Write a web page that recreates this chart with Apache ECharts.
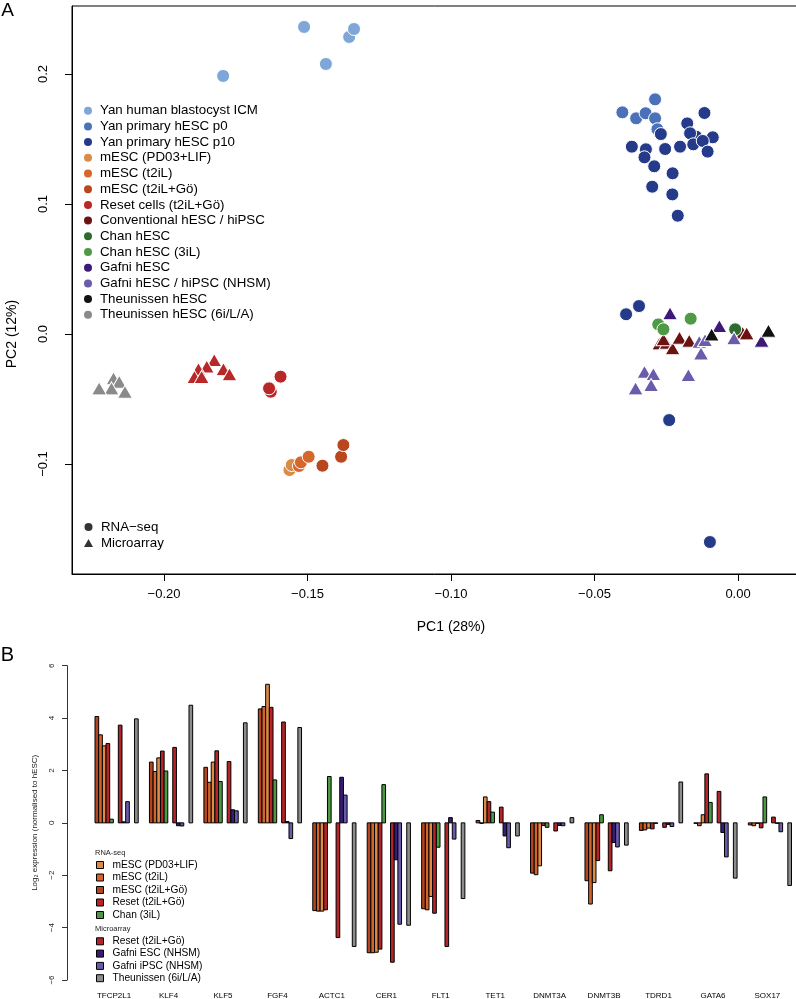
<!DOCTYPE html>
<html><head><meta charset="utf-8">
<script src="https://cdn.jsdelivr.net/npm/echarts@6/dist/echarts.min.js"></script>
<style>html,body{margin:0;padding:0;background:#fff}#c{width:796px;height:999px}</style>
</head><body><div id="c"></div>
<script>
// ---------------- Panel A data (PC1, PC2) ----------------
const yanICM = [[-0.1794,0.1985],[-0.1512,0.2362],[-0.1436,0.2077],[-0.1355,0.2285],[-0.1338,0.2346]];
const yanP0 = [[-0.0403,0.1705],[-0.0355,0.1659],[-0.0322,0.1698],[-0.0289,0.1805],[-0.0289,0.1659],[-0.0281,0.1575]];
const yanP10 = [[-0.0117,0.170],[-0.0177,0.162],[-0.0269,0.1538],[-0.0146,0.1518],[-0.0088,0.1513],[-0.0167,0.1544],[-0.0156,0.1459],[-0.0123,0.1485],[-0.0106,0.1403],[-0.0370,0.1441],[-0.0321,0.1421],[-0.0326,0.1359],[-0.0254,0.1423],[-0.0202,0.1441],[-0.0292,0.1290],[-0.0228,0.1236],[-0.0299,0.1133],[-0.0229,0.1074],[-0.0210,0.0910],[-0.0390,0.0152],[-0.0345,0.0215],[-0.0240,-0.0662],[-0.0098,-0.160]];
const mescPD03 = [[-0.1563,-0.1046],[-0.1555,-0.1008]];
const mescT2iL = [[-0.1530,-0.1015],[-0.1523,-0.0987],[-0.1496,-0.0944]];
const mescT2iLGo = [[-0.1448,-0.1013],[-0.1383,-0.0944],[-0.1375,-0.0854]];
const resetRNA = [[-0.1628,-0.0444],[-0.1634,-0.0418],[-0.1594,-0.0328]];
const resetArray = [[-0.1825,-0.020],[-0.1851,-0.025],[-0.1880,-0.027],[-0.1894,-0.033],[-0.1869,-0.033],[-0.1793,-0.027],[-0.1772,-0.031]];
const conventional = [[-0.0274,-0.0072],[-0.0249,-0.0067],[-0.0228,-0.0110],[-0.0204,-0.0028],[-0.0170,-0.0051],[-0.0002,0.0018],[0.0016,0.0010],[0.0030,0.0005],[-0.0260,-0.0040]];
const chanHESC = [[-0.0010,0.0036]];
const chan3iL = [[-0.0278,0.0074],[-0.0260,0.0036],[-0.0165,0.0118]];
const gafniHESC = [[-0.0237,0.0159],[-0.0065,0.0062],[0.0082,-0.0051]];
const gafniNHSM = [[-0.0135,-0.0059],[-0.0115,-0.0046],[-0.0129,-0.0149],[-0.0014,-0.0033],[-0.0326,-0.0290],[-0.0295,-0.0308],[-0.0357,-0.0418],[-0.0303,-0.0392],[-0.0173,-0.0315]];
const theuHESC = [[-0.0092,-0.0003],[0.0106,0.0026]];
const theu6iLA = [[-0.2176,-0.0341],[-0.2156,-0.0367],[-0.2183,-0.0418],[-0.2226,-0.0418],[-0.2136,-0.0444]];
const xTicksA = [-0.20,-0.15,-0.10,-0.05,0.00];
const yTicksA = [-0.1,0.0,0.1,0.2];

// ---------------- Panel B data (log2 expression) ----------------
const genes = ['TFCP2L1','KLF4','KLF5','FGF4','ACTC1','CER1','FLT1','TET1','DNMT3A','DNMT3B','TDRD1','GATA6','SOX17'];
const bT2iLGo  = [4.06, 2.32, 2.12, 4.35,-3.35,-4.96,-3.28, 0.09,-1.92,-2.21,-0.29,-0.01,-0.08];
const bT2iL    = [3.36, 1.96, 1.55, 4.44,-3.37,-4.96,-3.32,-0.02,-1.98,-3.10,-0.27,-0.11,-0.11];
const bPD03    = [2.94, 2.48, 2.32, 5.29,-3.37,-4.94,-2.81, 0.99,-1.64,-2.28,-0.20, 0.31,-0.01];
const bResetRNA= [3.03, 2.74, 2.75, 4.41,-3.32,-4.82,-3.45, 0.81,-0.10,-1.44,-0.23, 1.87,-0.19];
const bChan3iL = [0.14, 1.98, 1.58, 1.64, 1.77, 1.46,-0.93, 0.41,-0.17, 0.31,-0.01, 0.78, 0.99];
const bResetArr= [3.73, 2.88, 2.34, 3.85,-4.38,-5.32,-4.72, 0.60,-0.31,-1.83,-0.17, 1.20, 0.22];
const bGafniESC= [0.04,-0.11, 0.50, 0.05, 1.74,-1.41, 0.20,-0.50,-0.10,-0.75,-0.06,-0.37, 0.00];
const bGafniIPS= [0.81,-0.12, 0.46,-0.60, 1.06,-3.87,-0.62,-0.95,-0.11,-0.92,-0.14,-1.30,-0.34];
const bTheu    = [3.97, 4.49, 3.82, 3.64,-4.72,-3.91,-2.89,-0.50, 0.20,-0.85, 1.56,-2.11,-2.39];
const yTicksB = [-6,-4,-2,0,2,4,6];

// ---------------- styling / layout ----------------
const FONT = '"Liberation Sans", Arial, Helvetica, sans-serif';
const minus = s => s.replace('-', '\u2212');

const groupsA = [
  {name:'Yan human blastocyst ICM', color:'#7ea6d8', parts:[[yanICM,'c']]},
  {name:'Yan primary hESC p0', color:'#4b72b8', parts:[[yanP0,'c']]},
  {name:'Yan primary hESC p10', color:'#253b8a', parts:[[yanP10,'c']]},
  {name:'mESC (PD03+LIF)', color:'#d98c45', parts:[[mescPD03,'c']]},
  {name:'mESC (t2iL)', color:'#d4662e', parts:[[mescT2iL,'c']]},
  {name:'mESC (t2iL+Gö)', color:'#b8461e', parts:[[mescT2iLGo,'c']]},
  {name:'Reset cells (t2iL+Gö)', color:'#b82828', parts:[[resetRNA,'c'],[resetArray,'t']]},
  {name:'Conventional hESC / hiPSC', color:'#6b1313', parts:[[conventional,'t']]},
  {name:'Chan hESC', color:'#2e6b2e', parts:[[chanHESC,'c']]},
  {name:'Chan hESC (3iL)', color:'#4e9a46', parts:[[chan3iL,'c']]},
  {name:'Gafni hESC', color:'#3d1a78', parts:[[gafniHESC,'t']]},
  {name:'Gafni hESC / hiPSC (NHSM)', color:'#6b5bab', parts:[[gafniNHSM,'t']]},
  {name:'Theunissen hESC', color:'#111111', parts:[[theuHESC,'t']]},
  {name:'Theunissen hESC (6i/L/A)', color:'#8a8a8a', parts:[[theu6iLA,'t']]}
];

const series = [];
groupsA.forEach(g => g.parts.forEach(([d, s]) => {
  series.push({
    type:'scatter', name:g.name, xAxisIndex:0, yAxisIndex:0, data:d,
    symbol: s === 't' ? 'triangle' : 'circle',
    symbolSize: s === 't' ? [15,13] : 13,
    itemStyle:{color:g.color, borderColor:'#ffffff', borderWidth:1, opacity:1},
    emphasis:{disabled:true}, silent:true
  });
}));
series.push({type:'scatter', name:'RNA\u2212seq', xAxisIndex:0, yAxisIndex:0, data:[], symbol:'circle', itemStyle:{color:'#000'}});
series.push({type:'scatter', name:'Microarray', xAxisIndex:0, yAxisIndex:0, data:[], symbol:'triangle', itemStyle:{color:'#000'}});

// Panel B bars
const barDefs = [
  {name:'mESC (t2iL+Gö)', values:bT2iLGo, color:'#b4451f'},
  {name:'mESC (t2iL)', values:bT2iL, color:'#d2652c'},
  {name:'mESC (PD03+LIF)', values:bPD03, color:'#dd8b45'},
  {name:'Reset (t2iL+Gö)', values:bResetRNA, color:'#b52427'},
  {name:'Chan (3iL)', values:bChan3iL, color:'#4b9a42'},
  {name:'Reset (t2iL+Gö)', values:bResetArr, color:'#b52427'},
  {name:'Gafni ESC (NHSM)', values:bGafniESC, color:'#3a1a78'},
  {name:'Gafni iPSC (NHSM)', values:bGafniIPS, color:'#6a5aab'},
  {name:'Theunissen (6i/L/A)', values:bTheu, color:'#8c8c8c'}
];
const SLOT = [0,1,2,3,4,6.35,7.35,8.35,10.77];
const PERIOD = 14.83;
const LABEL_OFF = 5.2;
const XB_MIN = -7.63, XB_MAX = -7.63 + 728/3.671;

barDefs.forEach((b, k) => {
  series.push({
    type:'custom', name:b.name, xAxisIndex:1, yAxisIndex:1,
    data: b.values.map((v,i) => [i, v]),
    encode:{x:0, y:1},
    itemStyle:{color:b.color},
    silent:true,
    renderItem: (params, api) => {
      const gi = api.value(0), v = api.value(1);
      const x0 = gi * PERIOD + SLOT[k];
      const p0 = api.coord([x0, 0]);
      const p1 = api.coord([x0 + 1, v]);
      return {type:'rect',
        shape:{x:p0[0], y:Math.min(p0[1],p1[1]), width:p1[0]-p0[0], height:Math.max(Math.abs(p1[1]-p0[1]),0.5)},
        style:{fill:b.color, stroke:'#000', lineWidth:1}};
    }
  });
});
series.push({
  type:'custom', name:'genes', xAxisIndex:1, yAxisIndex:1,
  data: genes.map((g,i) => [i, -6]), encode:{x:0, y:1}, silent:true,
  renderItem: (params, api) => {
    const i = api.value(0);
    const p = api.coord([i * PERIOD + LABEL_OFF, -6]);
    return {type:'text', x:p[0], y:p[1] + 15.7,
      style:{text:genes[i], align:'center', verticalAlign:'middle', font:'8px ' + FONT, fill:'#000'}};
  }
});

const legendItem = (name, color, icon) => ({name, icon, itemStyle:{color, borderColor:'#000', borderWidth: icon==='rect'?1:0}});

const option = {
  animation:false,
  backgroundColor:'#ffffff',
  grid:[
    {left:72, top:6, width:733.2, height:568, show:true, borderColor:'#000', borderWidth:1, backgroundColor:'transparent', outerBoundsMode:'none', containLabel:false},
    {left:67, top:665.7, width:728, height:314.3, outerBoundsMode:'none', containLabel:false}
  ],
  xAxis:[
    {type:'value', gridIndex:0, min:-0.23206, max:0.0234, position:'bottom',
     axisLine:{show:true, onZero:false, lineStyle:{color:'#000', width:1}}, splitLine:{show:false},
     axisTick:{show:true, length:7, lineStyle:{color:'#000', width:1}, customValues:xTicksA},
     axisLabel:{customValues:xTicksA, formatter:v => minus(v.toFixed(2)), fontSize:13, color:'#000', margin:14, fontFamily:FONT}},
    {type:'value', gridIndex:1, min:XB_MIN, max:XB_MAX, show:false, splitLine:{show:false}, axisLine:{onZero:false}}
  ],
  yAxis:[
    {type:'value', gridIndex:0, min:-0.1846, max:0.2523, position:'left',
     axisLine:{show:true, onZero:false, lineStyle:{color:'#000', width:1}}, splitLine:{show:false},
     axisTick:{show:true, length:7, lineStyle:{color:'#000', width:1}, customValues:yTicksA},
     axisLabel:{customValues:yTicksA, formatter:v => minus(v.toFixed(1)), fontSize:13, color:'#000', margin:22, rotate:90, fontFamily:FONT}},
    {type:'value', gridIndex:1, min:-6, max:6, interval:2, position:'left',
     axisLine:{show:true, onZero:false, lineStyle:{color:'#333', width:1}}, splitLine:{show:false},
     axisTick:{show:true, length:5, lineStyle:{color:'#333', width:1}, customValues:yTicksB},
     axisLabel:{customValues:yTicksB, formatter:v => minus(String(v)), fontSize:8, color:'#222', margin:11, rotate:90, fontFamily:FONT}}
  ],
  legend:[
    {left:84, top:102.85, orient:'vertical', padding:0, itemGap:0, itemWidth:8, itemHeight:8, selectedMode:false,
     textStyle:{fontSize:13.3, lineHeight:15.7, color:'#000', fontFamily:FONT, padding:[0,0,0,3]},
     data: groupsA.map(g => ({name:g.name, icon:'circle', itemStyle:{color:g.color, borderWidth:0}}))},
    {left:84, top:519, orient:'vertical', padding:0, itemGap:0, itemWidth:9, itemHeight:8, selectedMode:false,
     textStyle:{fontSize:13.3, lineHeight:16, color:'#000', fontFamily:FONT, padding:[0,0,0,3]},
     data:[{name:'RNA\u2212seq', icon:'circle', itemStyle:{color:'#000'}}, {name:'Microarray', icon:'triangle', itemStyle:{color:'#000'}}]},
    {left:96, top:858.75, orient:'vertical', padding:0, itemGap:0, itemWidth:7, itemHeight:7, selectedMode:false,
     textStyle:{fontSize:10.2, lineHeight:12.5, color:'#000', fontFamily:FONT, padding:[0,0,0,4]},
     data:[legendItem('mESC (PD03+LIF)','#dd8b45','rect'), legendItem('mESC (t2iL)','#d2652c','rect'), legendItem('mESC (t2iL+Gö)','#b4451f','rect'), legendItem('Reset (t2iL+Gö)','#b52427','rect'), legendItem('Chan (3iL)','#4b9a42','rect')]},
    {left:96, top:935.15, orient:'vertical', padding:0, itemGap:0, itemWidth:7, itemHeight:7, selectedMode:false,
     textStyle:{fontSize:10.2, lineHeight:12.3, color:'#000', fontFamily:FONT, padding:[0,0,0,4]},
     data:[legendItem('Reset (t2iL+Gö)','#b52427','rect'), legendItem('Gafni ESC (NHSM)','#3a1a78','rect'), legendItem('Gafni iPSC (NHSM)','#6a5aab','rect'), legendItem('Theunissen (6i/L/A)','#8c8c8c','rect')]}
  ],
  graphic:[
    {type:'text', x:7.5, y:11, style:{text:'A', font:'19px ' + FONT, fill:'#000', align:'center', verticalAlign:'middle'}},
    {type:'text', x:7.5, y:655, style:{text:'B', font:'20px ' + FONT, fill:'#000', align:'center', verticalAlign:'middle'}},
    {type:'text', x:451, y:627, style:{text:'PC1 (28%)', font:'14px ' + FONT, fill:'#000', align:'center', verticalAlign:'middle'}},
    {type:'text', x:12, y:334, rotation:Math.PI/2, style:{text:'PC2 (12%)', font:'14px ' + FONT, fill:'#000', align:'center', verticalAlign:'middle'}},
    {type:'text', x:35, y:822.8, rotation:Math.PI/2, style:{text:'Log\u2082 expression (normalised to hESC)', font:'8px ' + FONT, fill:'#222', align:'center', verticalAlign:'middle'}},
    {type:'text', x:95, y:852.7, style:{text:'RNA-seq', font:'7.5px ' + FONT, fill:'#222', align:'left', verticalAlign:'middle'}},
    {type:'text', x:95, y:929.3, style:{text:'Microarray', font:'7.5px ' + FONT, fill:'#222', align:'left', verticalAlign:'middle'}}
  ],
  series
};
const chart = echarts.init(document.getElementById('c'), null, {renderer:'canvas'});
chart.setOption(option);
</script></body></html>
